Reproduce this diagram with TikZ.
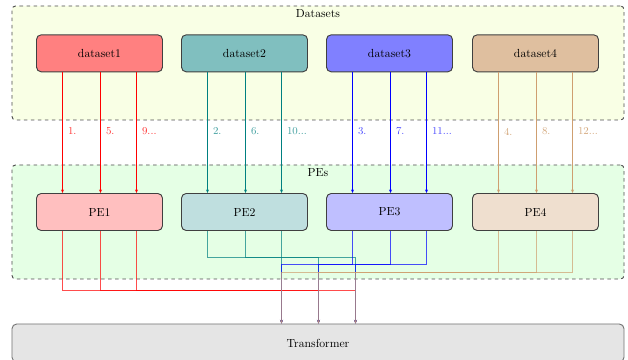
\documentclass[tikz,border=0pt]{standalone}
\usepackage{tikz}
\usetikzlibrary{positioning,calc,arrows.meta}

\colorlet{tonefour}{brown!75}

\begin{document}
\begin{tikzpicture}[
    group/.style={draw=black!70,dashed,thick,rounded corners=3pt,minimum width=18.36cm,minimum height=3.42cm},
    block/.style={draw=black!75,thick,rounded corners=4pt,minimum width=3.78cm,minimum height=1.11cm},
    feed/.style={line width=0.85pt,-{Stealth[length=3pt,width=2.5pt]}},
    merge/.style={line width=0.85pt,opacity=0.7,-{Stealth[length=3pt,width=2.5pt]}}]
    \useasboundingbox (0,0) rectangle (18.84,-10.8);
    \def\ofs{1.11}
    \node[group,fill=lime!10] (datasets) at (9.54,-1.89) {};
    \node[below=0pt of datasets.north] (datasetslabel) {Datasets};
    \node[group,fill=green!10] (pes) at (9.54,-6.66) {};
    \node[below=0pt of pes.north] (peslabel) {PEs};
    \node[block,draw=black!55,fill=gray!20,minimum width=18.36cm,minimum height=1.14cm] (transformer) at (9.54,-10.29) {Transformer};
    \foreach \j in {1,2,3} {
        \coordinate (in\j) at ($(transformer.north)+({(\j-2)*\ofs+0.015},0)$);
    }
    \foreach \i/\x/\col in {1/2.985/red,2/7.335/teal,3/11.685/blue,4/16.065/brown} {
        \node[block,fill=\col!50] (dataset\i) at (\x,-1.6) {dataset\i};
        \node[block,fill=\col!25] (pe\i) at (\x,-6.36) {PE\i};
    }
    % datasets to PEs
    \foreach \i/\tone/\labtone in {1/red/red!80,2/teal/teal!75,3/blue/blue!70,4/tonefour/tonefour!90} {
        \foreach \j/\s in {1/-1.11,2/0.03,3/1.11} {
            \pgfmathtruncatemacro\n{\i+4*(\j-1)}
            \ifnum\j=3 \def\tail{...}\else \def\tail{.}\fi
            \draw[feed,\tone] ($(dataset\i.south)+(\s,0)$) -- ($(pe\i.north)+(\s,0)$) node[pos=0.49,right,xshift=1pt,text=\labtone,font=\small] (lab\n) {\n\tail};
        }
    }
    % PEs to transformer
    \foreach \i/\tone/\bus in {1/red/-8.7,2/teal/-7.71,3/blue/-7.92,4/tonefour/-8.16} {
        \coordinate (bus\i) at (0,\bus);
        \foreach \j/\s in {1/-1.11,2/0.03,3/1.11} {
            \draw[merge,\tone] ($(pe\i.south)+(\s,0)$) coordinate (out) -- (out |- bus\i) -| (in\j);
        }
    }
\end{tikzpicture}
\end{document}
